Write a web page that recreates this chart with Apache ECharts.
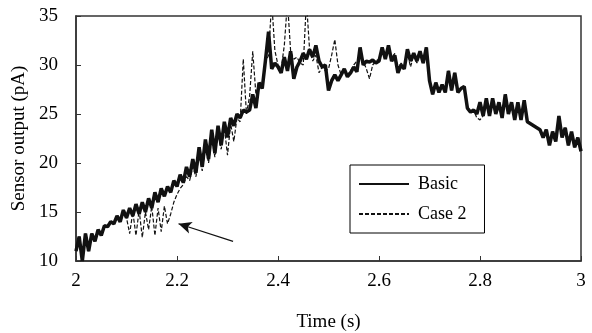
<!DOCTYPE html>
<html><head><meta charset="utf-8">
<script src="https://cdn.jsdelivr.net/npm/echarts@6/dist/echarts.min.js"></script>
<style>html,body{margin:0;padding:0;background:#fff}#c{width:592px;height:333px}</style>
</head><body><div id="c"></div>
<script>
const basic = [
11.0, 12.5, 10.0, 12.8, 11.0, 12.8, 12.0, 13.2, 12.6, 13.6,
13.5, 14.0, 13.8, 14.6, 14.0, 15.2, 14.4, 15.4, 14.6, 15.8,
14.8, 16.0, 15.0, 16.4, 15.4, 17.0, 16.0, 17.4, 16.6, 17.6,
17.0, 18.2, 17.6, 18.8, 18.0, 19.6, 18.6, 20.4, 19.0, 21.6,
19.6, 22.4, 20.4, 23.4, 21.0, 23.8, 21.8, 24.2, 22.6, 24.6,
23.8, 25.0, 24.6, 25.4, 25.2, 25.4, 27.0, 25.6, 28.2, 27.6,
30.4, 33.4, 29.6, 30.2, 29.8, 29.2, 30.8, 29.4, 31.4, 28.6,
29.8, 30.4, 31.2, 30.6, 31.6, 30.8, 32.0, 30.4, 29.8, 30.0,
27.4, 28.4, 29.0, 28.4, 29.0, 29.6, 28.8, 29.2, 29.8, 29.3,
31.8, 30.0, 30.4, 30.3, 30.5, 30.2, 30.4, 31.8, 30.6, 32.0,
30.4, 31.0, 29.2, 30.0, 29.6, 31.6, 30.4, 31.2, 30.4, 31.4,
30.2, 31.8, 28.4, 27.0, 28.2, 27.2, 28.0, 27.2, 29.4, 27.4,
29.2, 27.2, 27.6, 27.8, 25.6, 25.2, 25.4, 25.0, 26.2, 24.8,
26.6, 24.8, 26.6, 25.0, 26.2, 24.6, 27.0, 25.0, 26.2, 24.4,
26.2, 24.4, 26.4, 24.2, 24.0, 23.8, 23.6, 23.4, 22.6, 23.4,
21.8, 23.2, 22.2, 24.8, 22.6, 23.6, 21.8, 23.2, 21.6, 22.6, 21.2
];
const case2 = [
11.0, 12.5, 10.0, 12.8, 11.0, 12.8, 12.0, 13.2, 12.6, 13.6,
13.5, 14.0, 13.8, 14.6, 14.0, 15.2, 14.4, 12.8, 15.0, 12.6,
15.2, 12.4, 15.0, 13.2, 15.6, 12.6, 15.4, 13.0, 15.6, 13.8,
14.8, 16.0, 16.8, 17.4, 17.8, 18.6, 18.2, 19.6, 18.6, 20.8,
19.2, 21.6, 20.0, 22.6, 20.6, 23.0, 21.4, 23.6, 20.8, 24.0,
22.2, 24.6, 24.2, 30.6, 25.0, 26.8, 31.4, 27.0, 28.2, 28.0,
30.2, 31.0, 36.5, 31.5, 30.0, 29.6, 32.0, 36.5, 31.4, 30.6,
30.8, 30.2, 30.0, 36.5, 31.6, 30.4, 31.0, 29.2, 29.8, 29.4,
29.6, 31.0, 32.6, 30.0, 29.0, 29.6, 29.0, 29.4, 30.0, 30.4,
30.8, 30.4, 29.6, 28.6, 30.0, 30.4, 30.6, 31.2, 30.8, 31.6,
30.6, 31.2, 29.6, 30.2, 29.8, 31.2, 29.8, 31.0, 30.2, 31.4,
30.2, 31.8, 28.4, 27.0, 28.2, 27.2, 28.0, 27.2, 29.4, 27.4,
29.2, 27.2, 27.6, 27.8, 25.6, 25.2, 25.4, 24.6, 24.4, 24.8,
26.6, 24.8, 26.6, 25.0, 26.2, 24.6, 27.0, 25.0, 26.2, 24.4,
26.2, 24.4, 26.4, 24.2, 24.0, 23.8, 23.6, 23.4, 22.6, 23.4,
21.8, 23.2, 22.2, 24.8, 22.6, 23.6, 21.8, 23.2, 21.6, 22.6, 21.2
];
const sampleStep = 0.00625;
const time = basic.map((_, i) => +(2 + i * sampleStep).toFixed(5));
const seriesNames = ['Basic', 'Case 2'];
const arrowTail = [2.311, 12.0];
const arrowTip = [2.203, 13.8];
const xTicks = {min: 2, max: 3, interval: 0.2};
const yTicks = {min: 10, max: 35, interval: 5};

const font = 'Liberation Serif';
const pair = (arr) => arr.map((v, i) => [time[i], v]);
const chart = echarts.init(document.getElementById('c'), null, {renderer: 'canvas'});
chart.setOption({
  animation: false,
  backgroundColor: '#fff',
  grid: {left: 76, right: 11, top: 16, bottom: 72, show: true, borderColor: '#333', borderWidth: 1.5,
         backgroundColor: 'transparent', containLabel: false, outerBoundsMode: 'none'},
  legend: {
    data: seriesNames, orient: 'vertical', left: 350, top: 165,
    itemWidth: 50, itemHeight: 14, itemGap: 12,
    padding: [10, 18, 10, 8],
    itemStyle: {opacity: 0},
    borderColor: '#000', borderWidth: 1, backgroundColor: '#fff',
    textStyle: {fontFamily: font, fontSize: 18, color: '#000', padding: [0, 0, 0, 4]}
  },
  xAxis: {
    type: 'value', min: xTicks.min, max: xTicks.max, interval: xTicks.interval,
    name: 'Time (s)', nameLocation: 'middle', nameGap: 52,
    nameTextStyle: {fontFamily: font, fontSize: 19, color: '#000'},
    axisLine: {lineStyle: {color: '#333', width: 1.5}},
    axisTick: {inside: true, length: 5, lineStyle: {color: '#333'}},
    axisLabel: {margin: 11, fontFamily: font, fontSize: 19, color: '#000'},
    splitLine: {show: false}
  },
  yAxis: {
    type: 'value', min: yTicks.min, max: yTicks.max, interval: yTicks.interval,
    name: 'Sensor output (pA)', nameLocation: 'middle', nameGap: 42,
    nameTextStyle: {fontFamily: font, fontSize: 19, color: '#000'},
    axisLine: {show: true, lineStyle: {color: '#333', width: 1.5}},
    axisTick: {show: true, inside: true, length: 5, lineStyle: {color: '#333'}},
    axisLabel: {margin: 18, fontFamily: font, fontSize: 19, color: '#000'},
    splitLine: {show: false}
  },
  series: [
    {
      name: 'Case 2', type: 'line', data: pair(case2), showSymbol: false, symbol: 'none',
      lineStyle: {color: '#111', width: 1.2, type: [4, 2]}, itemStyle: {color: '#111'},
      z: 2, clip: true,
      markLine: {
        silent: true, symbolSize: [9, 13], animation: false,
        lineStyle: {color: '#111', width: 1.2, type: 'solid'},
        label: {show: false},
        data: [[{coord: arrowTail, symbol: 'none'}, {coord: arrowTip, symbol: 'arrow'}]]
      }
    },
    {
      name: 'Basic', type: 'line', data: pair(basic), showSymbol: false, symbol: 'none',
      lineStyle: {color: '#111', width: 3.5}, itemStyle: {color: '#111'},
      z: 3, clip: true
    }
  ]
});
</script></body></html>
